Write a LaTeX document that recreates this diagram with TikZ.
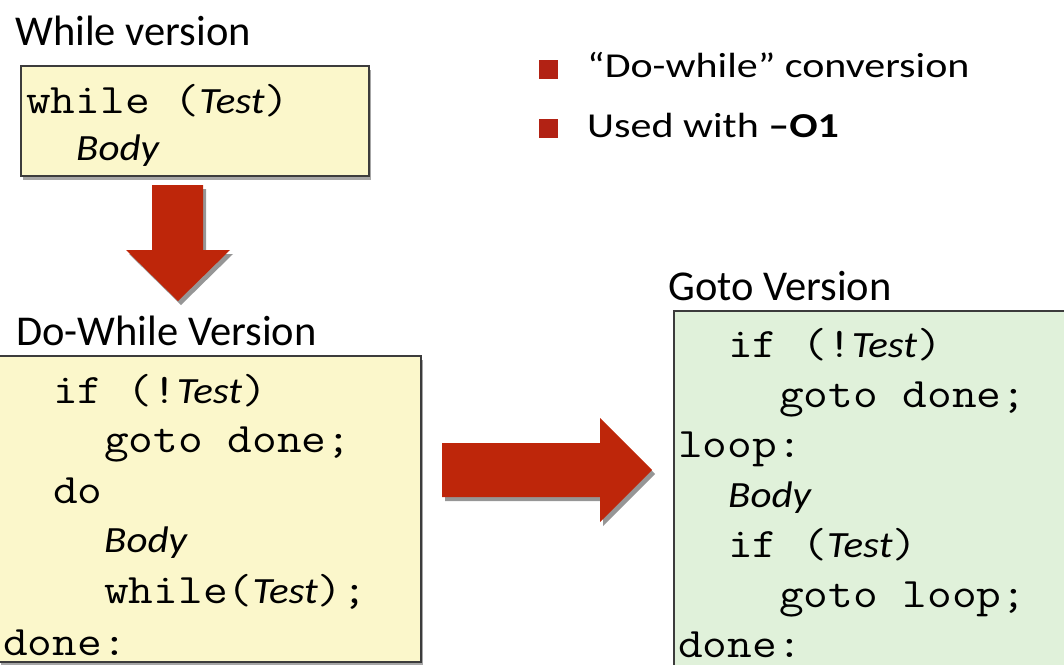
\documentclass[tikz,border=0pt]{standalone}
\usepackage{fontspec}
\usepackage{graphicx}
\setmainfont{Carlito}
\usepackage{tikz}
\usetikzlibrary{shadows}

\definecolor{slidered}{RGB}{190,38,10}
\definecolor{bulletred}{RGB}{178,34,20}
\definecolor{arrowshade}{RGB}{150,150,150}
\definecolor{codeyellow}{RGB}{251,247,203}
\definecolor{codegreen}{RGB}{224,241,218}
\definecolor{boxline}{RGB}{60,60,60}

% typewriter line, widened to the slide's Courier
\newcommand{\cl}[1]{\scalebox{1.143}[1]{\ttfamily\fontsize{42}{50}\selectfont #1}}
\newcommand{\meta}[1]{\scalebox{0.97}[1]{\normalfont\itshape\fontsize{37}{40}\selectfont #1}}

\tikzset{
  heading/.style={anchor=base west, inner sep=0pt, font=\fontsize{42.5}{48}\selectfont},
  code/.style={anchor=base west, inner sep=0pt},
  codebox/.style={draw=boxline, line width=1.6pt, anchor=north west, inner sep=0pt,
    drop shadow={shadow xshift=2pt, shadow yshift=-4pt, fill=black!35, opacity=1}},
  bulletsq/.style={fill=bulletred, inner sep=0pt, minimum size=19pt},
  bullettext/.style={anchor=base west, inner sep=0pt, font=\fontsize{35}{40}\selectfont},
}

\begin{document}
\begin{tikzpicture}[x=1pt,y=-1pt]
  \useasboundingbox (0,0) rectangle (1064,664);

  % while version
  \node[heading] (whilelbl) at (15,45) {While version};
  \node[codebox, fill=codeyellow, minimum width=348pt, minimum height=110pt] (whilebox) at (20,65) {};
  \node[code] (wl1) at (26,113) {\cl{while (\meta{Test})}};
  \node[code] (wl2) at (76,160) {\cl{\meta{Body}}};

  % down arrow
  \fill[arrowshade, shift={(3,4)}] (152,185) -- (203,185) -- (203,250) -- (230,250) -- (178,301) -- (126,250) -- (152,250) -- cycle;
  \fill[slidered] (152,185) -- (203,185) -- (203,250) -- (230,250) -- (178,301) -- (126,250) -- (152,250) -- cycle;

  % do-while version
  \node[heading] (dolbl) at (16,345) {Do-While Version};
  \node[codebox, fill=codeyellow, minimum width=422pt, minimum height=306pt] (dobox) at (-2,355) {};
  \node[code] (dl1) at (53,403) {\cl{if (!\meta{Test})}};
  \node[code] (dl2) at (104,452) {\cl{goto done;}};
  \node[code] (dl3) at (53,503) {\cl{do}};
  \node[code] (dl4) at (104,552) {\cl{\meta{Body}}};
  \node[code] (dl5) at (104,603) {\cl{while(\meta{Test});}};
  \node[code] (dl6) at (3,655) {\cl{done:}};

  % right arrow
  \fill[arrowshade, shift={(3,4)}] (442,443) -- (600,443) -- (600,418) -- (652,470) -- (600,522) -- (600,497) -- (442,497) -- cycle;
  \fill[slidered] (442,443) -- (600,443) -- (600,418) -- (652,470) -- (600,522) -- (600,497) -- (442,497) -- cycle;

  % goto version
  \node[heading] (gotolbl) at (668,300) {Goto Version};
  \node[codebox, fill=codegreen, minimum width=420pt, minimum height=370pt] (gotobox) at (673,310) {};
  \node[code] (gl1) at (728,357) {\cl{if (!\meta{Test})}};
  \node[code] (gl2) at (779,407) {\cl{goto done;}};
  \node[code] (gl3) at (678,457) {\cl{loop:}};
  \node[code] (gl4) at (728,507) {\cl{\meta{Body}}};
  \node[code] (gl5) at (728,557) {\cl{if (\meta{Test})}};
  \node[code] (gl6) at (779,607) {\cl{goto loop;}};
  \node[code] (gl7) at (678,657) {\cl{done:}};

  % bullets
  \node[bulletsq] (sq1) at (548,69) {};
  \node[bulletsq] (sq2) at (548,128) {};
  \node[bullettext] (b1) at (587,77) {\scalebox{1.2}[1]{“Do-while” conversion}};
  \node[bullettext] (b2) at (587,137) {\scalebox{1.2}[1]{Used with \textbf{–O1}}};
\end{tikzpicture}
\end{document}
